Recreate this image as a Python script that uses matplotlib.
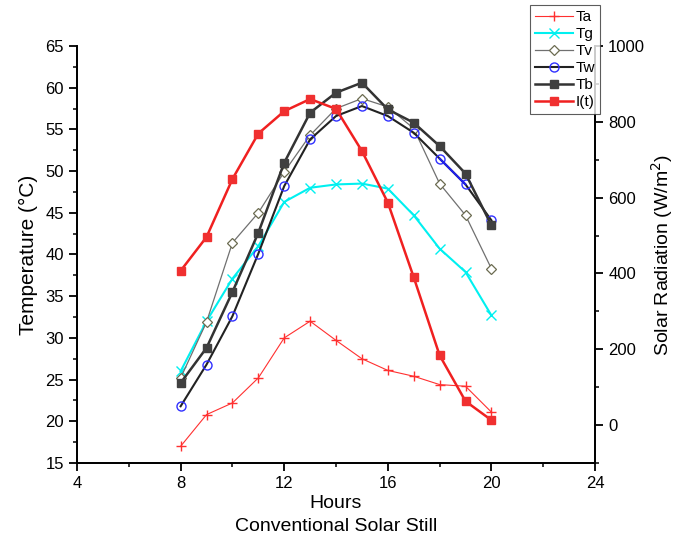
"""Temperatures and solar radiation over the day for a conventional solar still."""

import matplotlib
matplotlib.use("Agg")
import matplotlib.pyplot as plt
from matplotlib.ticker import MultipleLocator

plt.rcParams["font.family"] = ["Liberation Sans", "DejaVu Sans"]

hours = [8, 9, 10, 11, 12, 13, 14, 15, 16, 17, 18, 19, 20]

# temperatures (deg C)
ta = [17.0, 20.8, 22.2, 25.2, 30.0, 32.0, 29.7, 27.5, 26.1, 25.4, 24.4, 24.2, 21.1]
tg = [26.0, 32.0, 37.1, 41.0, 46.3, 48.0, 48.4, 48.5, 47.9, 44.7, 40.7, 37.9, 32.7]
tv = [25.2, 31.9, 41.4, 45.0, 49.9, 54.3, 57.5, 58.7, 57.7, 55.1, 48.5, 44.7, 38.3]
tw = [21.8, 26.8, 32.6, 40.1, 48.2, 53.8, 56.6, 57.8, 56.6, 54.6, 51.5, 48.4, 44.1]
tb = [24.6, 28.8, 35.5, 42.6, 51.0, 57.0, 59.4, 60.6, 57.4, 55.8, 53.0, 49.7, 43.5]

# solar radiation (W/m2)
irr = [407, 496, 649, 769, 828, 860, 834, 723, 587, 390, 184, 63, 13]

fig = plt.figure(figsize=(6.78, 5.41), dpi=100)
ax = fig.add_axes([0.1136, 0.1442, 0.7640, 0.7708])
ax2 = ax.twinx()

h1, = ax.plot(hours, ta, color="#ff3030", lw=0.8, marker="+", ms=7, mew=1.0, label="Ta")
h2, = ax.plot(hours, tg, color="#00f0f0", lw=1.5, marker="x", ms=6.5, mew=1.0, label="Tg")
h3, = ax.plot(hours, tv, color="#707070", lw=0.9, marker="D", ms=5.5, mfc="white",
              mec="#6b6b50", mew=0.9, label="Tv")
h4, = ax.plot(hours, tw, color="#222222", lw=1.5, marker="o", ms=6.5, mfc="none",
              mec="#3030ff", mew=1.0, label="Tw")
# the 18-19 h piece of the Tw line shows up blue in the original
ax.plot(hours[10:12], tw[10:12], color="#2020ee", lw=1.5, zorder=2.5)
h5, = ax.plot(hours, tb, color="#333333", lw=1.8, marker="s", ms=6.2, mfc="#404040",
              mec="#404040", label="Tb")
h6, = ax2.plot(hours, irr, color="#f02020", lw=1.8, marker="s", ms=6.2, mfc="#f03030",
               mec="#f03030", label="I(t)")

ax.set_xlim(4, 24)
ax.set_ylim(15, 65)
ax2.set_ylim(-100, 1000)
ax.xaxis.set_major_locator(MultipleLocator(4))
ax.xaxis.set_minor_locator(MultipleLocator(2))
ax.yaxis.set_major_locator(MultipleLocator(5))
ax.yaxis.set_minor_locator(MultipleLocator(2.5))
ax2.yaxis.set_minor_locator(MultipleLocator(100))
ax2.set_yticks([0, 200, 400, 600, 800, 1000])

for a in (ax, ax2):
    a.spines["top"].set_visible(False)
    for s in a.spines.values():
        s.set_linewidth(1.3)
    a.tick_params(which="major", direction="out", length=6, width=1.3, labelsize=12)
    a.tick_params(which="minor", direction="out", length=3, width=1.1)

ax.set_ylabel("Temperature (°C)", fontsize=15, labelpad=5)
ax2.set_ylabel("Solar Radiation (W/m$^2$)", fontsize=14, labelpad=3)
ax.set_xlabel("Hours\nConventional Solar Still", fontsize=14, labelpad=3, linespacing=1.45)

leg = fig.legend(handles=[h1, h2, h3, h4, h5, h6], loc="upper left",
                 bbox_to_anchor=(0.782, 0.99), fontsize=11, frameon=True,
                 fancybox=False, handlelength=2.5, handletextpad=0.2,
                 labelspacing=0.2, borderpad=0.3, borderaxespad=0)
leg.get_frame().set_edgecolor("#333333")
leg.get_frame().set_linewidth(0.8)

fig.savefig("out.png", dpi=100)
